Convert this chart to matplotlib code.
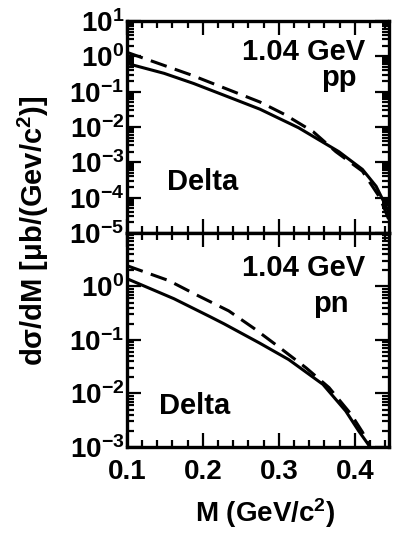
import numpy as np
import matplotlib
matplotlib.use('Agg')
import matplotlib.pyplot as plt
from matplotlib.ticker import FixedLocator, LogLocator, MultipleLocator, FuncFormatter, NullFormatter

plt.rcParams['font.family'] = ['Liberation Sans', 'DejaVu Sans']
plt.rcParams['font.weight'] = 'bold'
plt.rcParams['mathtext.fontset'] = 'custom'
plt.rcParams['mathtext.rm'] = 'Liberation Sans:bold'
plt.rcParams['mathtext.it'] = 'Liberation Sans:bold'
plt.rcParams['mathtext.bf'] = 'Liberation Sans:bold'
plt.rcParams['mathtext.sf'] = 'Liberation Sans:bold'

# ---- data ----
m_pp_solid = [0.100, 0.149, 0.188, 0.228, 0.275, 0.326, 0.379, 0.410, 0.428, 0.443, 0.447]
v_pp_solid = [0.63, 0.33, 0.17, 0.079, 0.032, 0.0095, 0.0020, 6.3e-4, 2.1e-4, 4.7e-5, 2.0e-5]

m_pp_dash = [0.100, 0.184, 0.275, 0.307, 0.345, 0.375, 0.410, 0.433, 0.447]
v_pp_dash = [1.3, 0.30, 0.051, 0.023, 0.0074, 0.0020, 5.6e-4, 1.0e-4, 1.8e-5]

m_pn_solid = [0.100, 0.162, 0.210, 0.228, 0.275, 0.313, 0.358, 0.388, 0.405, 0.418, 0.422]
v_pn_solid = [1.4, 0.59, 0.27, 0.20, 0.087, 0.043, 0.0148, 0.0047, 0.0020, 0.0011, 0.00085]

m_pn_dash = [0.100, 0.155, 0.193, 0.234, 0.267, 0.300, 0.336, 0.366, 0.395, 0.410, 0.420]
v_pn_dash = [2.45, 1.29, 0.68, 0.35, 0.166, 0.074, 0.030, 0.0129, 0.0041, 0.0019, 0.0010]

xticks = [0.1, 0.2, 0.3, 0.4]
xticklabels = ['0.1', '0.2', '0.3', '0.4']
yticks_pp = [1e-5, 1e-4, 1e-3, 1e-2, 1e-1, 1e0, 1e1]
yticks_pn = [1e-3, 1e-2, 1e-1, 1e0]

fig = plt.figure(figsize=(3.99, 5.33), dpi=100)
ax1 = fig.add_axes([0.318, 0.5629, 0.657, 0.3977])
ax2 = fig.add_axes([0.318, 0.1614, 0.657, 0.4015])


def style(ax, ylim, yticks, show_x=True):
    ax.set_yscale('log')
    ax.set_xlim(0.1, 0.445)
    ax.set_ylim(*ylim)
    ax.xaxis.set_major_locator(FixedLocator(xticks))
    ax.xaxis.set_minor_locator(MultipleLocator(0.02))
    ax.yaxis.set_major_locator(FixedLocator(yticks))
    ax.yaxis.set_minor_locator(LogLocator(base=10, subs=np.arange(2, 10), numticks=20))
    ax.yaxis.set_minor_formatter(NullFormatter())

    def fmt(v, p):
        e = int(round(np.log10(v)))
        return r'$\mathbf{10^{%d}}$' % e
    ax.yaxis.set_major_formatter(FuncFormatter(fmt))
    if show_x:
        ax.set_xticklabels(xticklabels)
    else:
        ax.set_xticklabels([])
    ax.tick_params(which='both', direction='in', top=True, right=True, width=1.6)
    ax.tick_params(which='major', length=10)
    ax.tick_params(which='minor', length=5)
    ax.tick_params(axis='x', labelsize=20, pad=9)
    ax.tick_params(axis='y', labelsize=20, pad=2)
    for s in ax.spines.values():
        s.set_linewidth(2.4)


ax1.plot(m_pp_solid, v_pp_solid, color='black', lw=2.2, solid_capstyle='butt')
ax1.plot(m_pp_dash, v_pp_dash, color='black', lw=2.2, linestyle=(0, (5.5, 2.8)))
style(ax1, (1e-5, 1e1), yticks_pp, show_x=False)
ax1.text(0.908, 0.816, '1.04 GeV', transform=ax1.transAxes, ha='right', va='baseline', fontsize=21)
ax1.text(0.878, 0.693, 'pp', transform=ax1.transAxes, ha='right', va='baseline', fontsize=21)
ax1.text(0.153, 0.203, 'Delta', transform=ax1.transAxes, ha='left', va='baseline', fontsize=21)

ax2.plot(m_pn_solid, v_pn_solid, color='black', lw=2.2, solid_capstyle='butt')
ax2.plot(m_pn_dash, v_pn_dash, color='black', lw=2.2, linestyle=(0, (5.5, 2.8)))
style(ax2, (1e-3, 1e1), yticks_pn, show_x=True)
ax2.text(0.908, 0.799, '1.04 GeV', transform=ax2.transAxes, ha='right', va='baseline', fontsize=21)
ax2.text(0.844, 0.630, 'pn', transform=ax2.transAxes, ha='right', va='baseline', fontsize=21)
ax2.text(0.122, 0.154, 'Delta', transform=ax2.transAxes, ha='left', va='baseline', fontsize=21)

fig.text(0.083, 0.568, 'dσ/dM [μb/(Gev/c$^2$)]', rotation=90, fontsize=21,
         ha='center', va='center')
fig.text(0.665, 0.038, 'M (GeV/c$^2$)', fontsize=20, ha='center', va='center')

fig.savefig('out.png', dpi=100)
